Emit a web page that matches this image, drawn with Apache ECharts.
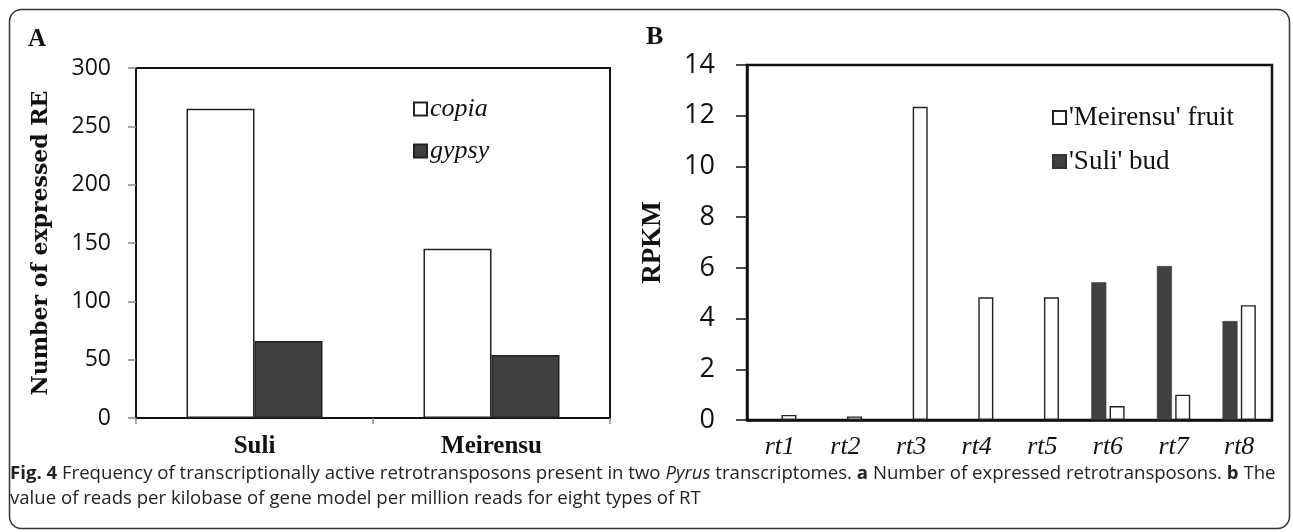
<!DOCTYPE html>
<html>
<head>
<meta charset="utf-8">
<script src="https://cdn.jsdelivr.net/npm/echarts@6/dist/echarts.min.js"></script>
<style>
html,body{margin:0;padding:0;background:#fff;}
#chart{width:1293px;height:532px;}
</style>
</head>
<body>
<div id="chart"></div>
<script>
// Panel A data
var categoriesA = ['Suli', 'Meirensu'];
var copiaValues = [265, 145];
var gypsyValues = [66, 54];
var ticksA = [0, 50, 100, 150, 200, 250, 300];

// Panel B data
var categoriesB = ['rt1', 'rt2', 'rt3', 'rt4', 'rt5', 'rt6', 'rt7', 'rt8'];
var suliBud = [null, null, null, null, null, 5.43, 6.07, 3.9];
var meirensuFruit = [0.2, 0.14, 12.35, 4.84, 4.84, 0.55, 1.0, 4.53];
var ticksB = [0, 2, 4, 6, 8, 10, 12, 14];

var SERIF = '"Liberation Serif", "Times New Roman", serif';
var SANS = '"Open Sans", "Noto Sans", sans-serif';
var DARK = '#404040';

var chart = echarts.init(document.getElementById('chart'), null, {renderer: 'canvas'});

var option = {
  animation: false,
  backgroundColor: '#fff',
  grid: [
    {left: 136, top: 68, right: 683, bottom: 114, show: true, borderColor: '#111', borderWidth: 2, backgroundColor: 'transparent'},
    {left: 747, top: 65, right: 21, bottom: 112, show: true, borderColor: '#111', borderWidth: 2.5, backgroundColor: 'transparent'}
  ],
  legend: [
    {
      data: ['copia', 'gypsy'],
      orient: 'vertical',
      left: 408, top: 91,
      itemWidth: 13, itemHeight: 13, itemGap: 16,
      icon: 'rect',
      textStyle: {fontFamily: SERIF, fontStyle: 'italic', fontSize: 26, color: '#111', padding: [0, 0, 0, -2]}
    },
    {
      data: ["'Meirensu' fruit", "'Suli' bud"],
      orient: 'vertical',
      left: 1047, top: 99,
      itemWidth: 13, itemHeight: 13, itemGap: 17,
      icon: 'rect',
      textStyle: {fontFamily: SERIF, fontSize: 27, color: '#111', padding: [0, 0, 0, -2]}
    }
  ],
  xAxis: [
    {
      type: 'category', gridIndex: 0, data: categoriesA,
      axisLine: {lineStyle: {color: '#111', width: 2}},
      axisTick: {show: true, length: 6, lineStyle: {color: '#888', width: 1.5}},
      axisLabel: {fontFamily: SERIF, fontWeight: 'bold', fontSize: 25, color: '#111', margin: 16}
    },
    {
      type: 'category', gridIndex: 1, data: categoriesB,
      axisLine: {lineStyle: {color: '#111', width: 2.5}},
      axisTick: {show: false},
      axisLabel: {fontFamily: SERIF, fontStyle: 'italic', fontSize: 26, color: '#111', margin: 14}
    }
  ],
  yAxis: [
    {
      type: 'value', gridIndex: 0, min: ticksA[0], max: ticksA[ticksA.length - 1], interval: ticksA[1] - ticksA[0],
      name: 'Number of expressed RE', nameLocation: 'middle', nameGap: 84,
      nameTextStyle: {fontFamily: '"DejaVu Serif", serif', fontWeight: 'bold', fontSize: 22, color: '#111'},
      axisLine: {show: true, lineStyle: {color: '#111', width: 2}},
      axisTick: {show: true, length: 8, lineStyle: {color: '#888', width: 1.5}},
      splitLine: {show: false},
      axisLabel: {fontFamily: SANS, fontSize: 23, color: '#111', margin: 25}
    },
    {
      type: 'value', gridIndex: 1, min: ticksB[0], max: ticksB[ticksB.length - 1], interval: ticksB[1] - ticksB[0],
      name: 'RPKM', nameLocation: 'middle', nameGap: 80,
      nameTextStyle: {fontFamily: SERIF, fontWeight: 'bold', fontSize: 27, color: '#111'},
      axisLine: {show: true, lineStyle: {color: '#111', width: 2.5}},
      axisTick: {show: true, length: 11, lineStyle: {color: '#111', width: 1.5}},
      splitLine: {show: false},
      axisLabel: {fontFamily: SANS, fontSize: 27, color: '#111', margin: 32}
    }
  ],
  series: [
    {
      name: 'copia', type: 'bar', xAxisIndex: 0, yAxisIndex: 0, data: copiaValues,
      barWidth: 68, barGap: '0%',
      itemStyle: {color: '#fff', borderColor: '#222', borderWidth: 1.5}
    },
    {
      name: 'gypsy', type: 'bar', xAxisIndex: 0, yAxisIndex: 0, data: gypsyValues,
      barWidth: 68, barGap: '0%',
      itemStyle: {color: DARK, borderColor: '#222', borderWidth: 1.5}
    },
    {
      name: "'Suli' bud", type: 'bar', xAxisIndex: 1, yAxisIndex: 1, data: suliBud,
      barWidth: 15, barGap: '22%',
      itemStyle: {color: DARK, borderColor: '#333', borderWidth: 0.5}
    },
    {
      name: "'Meirensu' fruit", type: 'bar', xAxisIndex: 1, yAxisIndex: 1, data: meirensuFruit,
      barWidth: 15, barGap: '22%',
      itemStyle: {color: '#fff', borderColor: '#222', borderWidth: 1.4}
    }
  ],
  graphic: [
    {
      type: 'rect', left: 7, top: 7, z: 0, silent: true,
      shape: {width: 1280, height: 519, r: 12},
      style: {fill: 'none', stroke: '#333', lineWidth: 1.5}
    },
    {
      type: 'text', left: 28, top: 27,
      style: {text: 'A', fontFamily: SERIF, fontWeight: 'bold', fontSize: 25, fill: '#111'}
    },
    {
      type: 'text', left: 646, top: 24,
      style: {text: 'B', fontFamily: SERIF, fontWeight: 'bold', fontSize: 26, fill: '#111'}
    },
    {
      type: 'text', left: 10, top: 464,
      style: {
        text: '{b|Fig. 4} Frequency of transcriptionally active retrotransposons present in two {i|Pyrus} transcriptomes. {b|a} Number of expressed retrotransposons. {b|b} The',
        fontFamily: SANS, fontSize: 18.6, fill: '#222',
        rich: {
          b: {fontFamily: SANS, fontSize: 18.6, fontWeight: 'bold', fill: '#222'},
          i: {fontFamily: SANS, fontSize: 18.6, fontStyle: 'italic', fill: '#222'}
        }
      }
    },
    {
      type: 'text', left: 10, top: 489,
      style: {
        text: 'value of reads per kilobase of gene model per million reads for eight types of RT',
        fontFamily: SANS, fontSize: 18.6, fill: '#222'
      }
    }
  ]
};

chart.setOption(option);
</script>
</body>
</html>
